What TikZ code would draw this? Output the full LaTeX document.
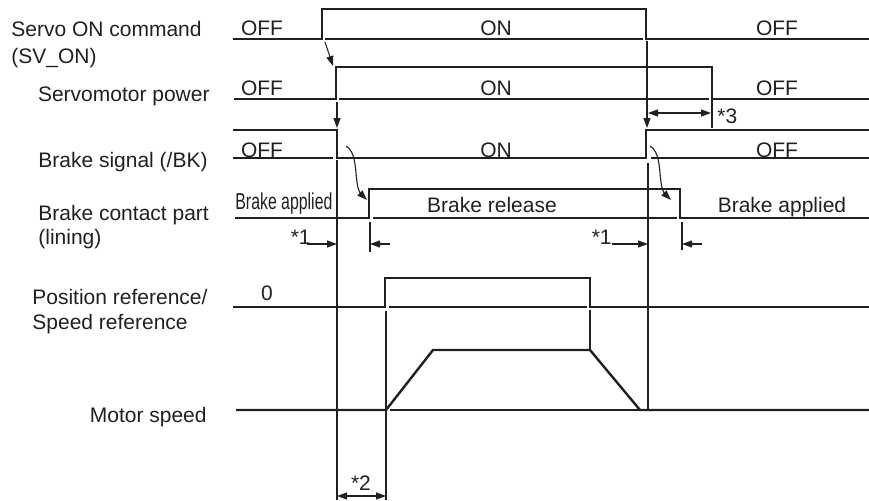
\documentclass[tikz,border=0pt]{standalone}
\usepackage{fontspec}
\setmainfont{Liberation Sans}
\usetikzlibrary{arrows.meta}
\definecolor{ink}{HTML}{231F20}
\tikzset{
  sig/.style={draw=ink, line width=1.2pt},
  thin/.style={draw=ink, line width=0.55pt},
  arr/.style={-{Triangle[length=5pt,width=3.5pt]}, draw=ink, line width=0.55pt},
  dim/.style={{Triangle[length=5pt,width=3.5pt]}-{Triangle[length=5pt,width=3.5pt]}, draw=ink, line width=0.55pt},
  lbl/.style={text=ink, inner sep=0pt, font=\fontsize{10.5}{12}\selectfont},
}

\begin{document}
\begin{tikzpicture}[x=0.5pt, y=-0.5pt]
  \useasboundingbox (0,0) rectangle (869,500);

  % row names
  \node[lbl, anchor=base west] (sv1) at (11,36) {Servo ON command};
  \node[lbl, anchor=base west] (sv2) at (11,63) {(SV\_ON)};
  \node[lbl, anchor=base east] (pw) at (210,101) {Servomotor power};
  \node[lbl, anchor=base east] (bk) at (208,167) {Brake signal (/BK)};
  \node[lbl, anchor=base west] (bc1) at (38,220) {Brake contact part};
  \node[lbl, anchor=base west] (bc2) at (38,244) {(lining)};
  \node[lbl, anchor=base west] (pr1) at (32,304) {Position reference/};
  \node[lbl, anchor=base west] (pr2) at (32,329) {Speed reference};
  \node[lbl, anchor=base east] (ms) at (207,422) {Motor speed};

  % state texts
  \node[lbl, anchor=base] (svA) at (262,35) {OFF};
  \node[lbl, anchor=base] (svB) at (496,35) {ON};
  \node[lbl, anchor=base] (svC) at (777,35) {OFF};
  \node[lbl, anchor=base] (pwA) at (262,95) {OFF};
  \node[lbl, anchor=base] (pwB) at (496,95) {ON};
  \node[lbl, anchor=base] (pwC) at (777,95) {OFF};
  \node[lbl, anchor=base] (bkA) at (262,157) {OFF};
  \node[lbl, anchor=base] (bkB) at (496,157) {ON};
  \node[lbl, anchor=base] (bkC) at (777,157) {OFF};
  \node[lbl, anchor=base west, font=\fontsize{11.5}{13}\selectfont] (bcA) at (235,209)
    {\scalebox{0.69}[1]{Brake applied}};
  \node[lbl, anchor=base] (bcB) at (492,212) {Brake release};
  \node[lbl, anchor=base] (bcC) at (782,212) {Brake applied};
  \node[lbl, anchor=base] (prA) at (267,300) {0};
  \node[lbl, anchor=base east] (n1a) at (311,244) {*1};
  \node[lbl, anchor=base east] (n1b) at (612,244) {*1};
  \node[lbl, anchor=base west] (n3) at (717,123) {*3};
  \node[lbl, anchor=base] (n2) at (361,490) {*2};

  % waveforms
  \draw[sig] (233,39) -- (322,39) -- (322,9) -- (646,9) -- (646,39) -- (869,39);
  \draw[sig] (234,99) -- (336,99) -- (336,67) -- (712,67) -- (712,99) -- (869,99);
  \draw[sig] (233,130) -- (337,130) -- (337,158) -- (646,158) -- (646,130) -- (869,130);
  \draw[sig] (235,218) -- (369,218) -- (369,189) -- (680,189) -- (680,218) -- (869,218);
  \draw[sig] (233,307) -- (385,307) -- (385,278) -- (590,278) -- (590,307) -- (869,307);
  \draw[sig] (236,410) -- (386,410) -- (433,350) -- (590,350) -- (640,410) -- (869,410);

  % thin base lines
  \draw[thin] (325,39) -- (643,39);
  \draw[thin] (339,99) -- (709,99);
  \draw[thin] (233,158) -- (333,158);
  \draw[thin] (651,158) -- (869,158);
  \draw[thin] (373,218) -- (677,218);
  \draw[thin] (389,307) -- (587,307);
  \draw[thin] (390,410) -- (640,410);

  % guide lines and ticks
  \draw[thin] (337,160) -- (337,500);
  \draw[thin] (386,311) -- (386,500);
  \draw[thin] (648,163) -- (648,410);
  \draw[thin] (590,310) -- (590,350);
  \draw[thin] (370,222) -- (370,252);
  \draw[thin] (682,222) -- (682,250);
  \draw[thin] (712,100) -- (712,128);

  % arrow ends
  \coordinate (svUp) at (325,42);
  \coordinate (pwUp) at (333,66);
  \coordinate (pwDn) at (337,102);
  \coordinate (bkDn) at (337,128);
  \coordinate (svDn) at (647,41);
  \coordinate (bkUp) at (647,128);
  \coordinate (bkL) at (346,146);
  \coordinate (bcL) at (367,200);
  \coordinate (bkR) at (650,146);
  \coordinate (bcR) at (671,200);
  \coordinate (d1a) at (307,244);
  \coordinate (d1b) at (337,244);
  \coordinate (d1c) at (390,244);
  \coordinate (d1d) at (370,244);
  \coordinate (d1e) at (612,244);
  \coordinate (d1f) at (648,244);
  \coordinate (d1g) at (702,244);
  \coordinate (d1h) at (682,244);
  \coordinate (d3a) at (648,113);
  \coordinate (d3b) at (711,113);
  \coordinate (d2a) at (337,496);
  \coordinate (d2b) at (386,496);

  % causal arrows
  \draw[arr] (svUp) -- (pwUp);
  \draw[arr] (pwDn) -- (bkDn);
  \draw[arr] (svDn) -- (bkUp);
  \draw[arr] (bkL) .. controls (356,152) and (355,168) .. (357,182)
                   .. controls (358,192) and (362,195) .. (bcL);
  \draw[arr] (bkR) .. controls (660,152) and (659,168) .. (661,182)
                   .. controls (662,192) and (666,195) .. (bcR);

  % delays
  \draw[arr] (d1a) -- (d1b);
  \draw[arr] (d1c) -- (d1d);
  \draw[arr] (d1e) -- (d1f);
  \draw[arr] (d1g) -- (d1h);
  \draw[dim] (d3a) -- (d3b);
  \draw[dim] (d2a) -- (d2b);
\end{tikzpicture}
\end{document}
